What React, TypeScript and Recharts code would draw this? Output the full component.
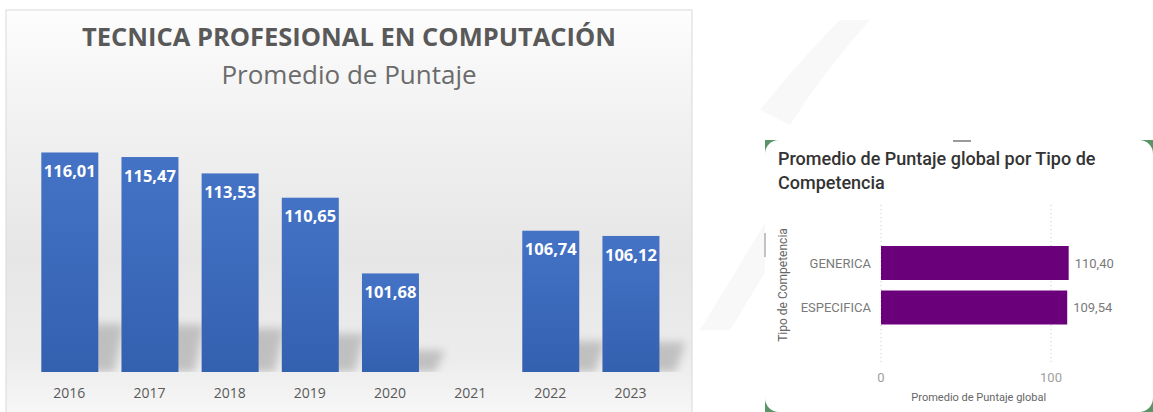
import React from 'react';
import { BarChart, Bar, XAxis, YAxis, CartesianGrid, LabelList } from 'recharts';

// ---- data ----
const years = ['2016', '2017', '2018', '2019', '2020', '2021', '2022', '2023'];
const scores: (number | null)[] = [116.01, 115.47, 113.53, 110.65, 101.68, null, 106.74, 106.12];
const competencias = ['GENERICA', 'ESPECIFICA'];
const globalScores = [110.4, 109.54];
const rightTicks = [0, 100];

const leftTitle = 'TECNICA PROFESIONAL EN COMPUTACIÓN';
const leftSubtitle = 'Promedio de Puntaje';
const rightTitleLines = ['Promedio de Puntaje global por Tipo de', 'Competencia'];
const rightXLabel = 'Promedio de Puntaje global';
const rightYLabel = 'Tipo de Competencia';

const yearData = years.map((y, i) => ({ year: y, score: scores[i] }));
const compData = competencias.map((c, i) => ({ tipo: c, score: globalScores[i] }));

const fmt = (v: any) => (v == null || v === '' ? '' : Number(v).toFixed(2).replace('.', ','));

const ShadowBar = (props: any) => {
  const { x, y, width, height } = props;
  if (!height || height <= 0) return null;
  const bottom = y + height;
  const sh = height * 0.22;
  return (
    <g>
      <polygon
        points={`${x + width * 0.5},${bottom} ${x + width + 16},${bottom} ${x + width + 26},${bottom - sh} ${x + width * 0.5 + 10},${bottom - sh}`}
        fill="#8c8c8c"
        opacity={0.45}
        filter="url(#blurShadow)"
      />
      <rect x={x} y={y} width={width} height={height} fill="url(#barBlue)" />
    </g>
  );
};

export default function App() {
  return (
    <div style={{ position: 'absolute', left: 0, top: 0, width: 1153, height: 412, background: '#ffffff', overflow: 'hidden' }}>
      <svg style={{ position: 'absolute', left: 0, top: 0 }} width={1153} height={412}>
        <defs>
          <linearGradient id="panelBg" x1="0" y1="0" x2="0" y2="1">
            <stop offset="0%" stopColor="#fdfdfd" />
            <stop offset="25%" stopColor="#f2f2f2" />
            <stop offset="60%" stopColor="#e6e6e6" />
            <stop offset="85%" stopColor="#ececec" />
            <stop offset="100%" stopColor="#f8f8f8" />
          </linearGradient>
        </defs>
        {/* faint watermark */}
        <path d="M 700 330 L 770 215 L 800 215 L 730 330 Z" fill="#f8f8f8" />
        <path d="M 760 110 Q 800 60 840 20 L 870 20 Q 825 70 790 125 Z" fill="#f8f8f8" />
        {/* left panel */}
        <rect x={6} y={10} width={686} height={410} fill="url(#panelBg)" stroke="#d9d9d9" strokeWidth={1} />
        <text x={349} y={46} textAnchor="middle" fontFamily="'Open Sans', sans-serif" fontWeight={700} fontSize={25.5} fill="#595959">
          {leftTitle}
        </text>
        <text x={349} y={83.5} textAnchor="middle" fontFamily="'Open Sans', sans-serif" fontSize={26} fill="#6b6b6b">
          {leftSubtitle}
        </text>
        {/* right panel */}
        <rect x={765} y={140} width={388} height={272} fill="#5a9467" />
        <rect x={765} y={140} width={388} height={272} rx={14} ry={14} fill="#ffffff" />
        <rect x={953} y={140} width={18} height={2} fill="#9a9a9a" />
        <line x1={765} y1={233} x2={765} y2={257} stroke="#8a8a8a" strokeWidth={1} />
        <text fontFamily="Roboto, sans-serif" fontWeight={500} fontSize={18} fill="#333333">
          <tspan x={778} y={165}>{rightTitleLines[0]}</tspan>
          <tspan x={778} y={188.5}>{rightTitleLines[1]}</tspan>
        </text>
      </svg>

      <div style={{ position: 'absolute', left: 0, top: 0 }}>
        <BarChart width={700} height={412} data={yearData} margin={{ top: 118.8, right: 29.4, bottom: 10, left: 29.3 }}>
          <defs>
            <linearGradient id="barBlue" x1="0" y1="0" x2="0" y2="1">
              <stop offset="0%" stopColor="#4473c6" />
              <stop offset="100%" stopColor="#3460b0" />
            </linearGradient>
            <filter id="blurShadow" x="-50%" y="-50%" width="200%" height="200%">
              <feGaussianBlur stdDeviation="4" />
            </filter>
          </defs>
          <XAxis
            dataKey="year"
            axisLine={false}
            tickLine={false}
            tickSize={0}
            tickMargin={16}
            interval={0}
            height={30}
            tick={{ fill: '#595959', fontSize: 14, fontFamily: "'Open Sans', sans-serif" }}
          />
          <YAxis hide type="number" domain={[90, 120]} allowDataOverflow />
          <Bar dataKey="score" barSize={57} shape={ShadowBar} isAnimationActive={false}>
            <LabelList
              dataKey="score"
              position="insideTop"
              offset={13}
              formatter={fmt}
              fill="#ffffff"
              fontSize={16.5}
              fontWeight={700}
              fontFamily="'Open Sans', sans-serif"
            />
          </Bar>
        </BarChart>
      </div>

      <div style={{ position: 'absolute', left: 765, top: 140 }}>
        <BarChart
          width={388}
          height={272}
          data={compData}
          layout="vertical"
          margin={{ top: 65, right: 76.5, bottom: 0, left: 0 }}
        >
          <CartesianGrid
            horizontal={false}
            vertical={true}
            verticalValues={rightTicks}
            strokeDasharray="1 3"
            stroke="#c8c8c8"
          />
          <XAxis
            type="number"
            domain={[0, 115]}
            ticks={rightTicks}
            axisLine={false}
            tickLine={false}
            tickSize={0}
            tickMargin={8}
            height={47}
            tick={{ fill: '#a0a0a0', fontSize: 13, fontFamily: 'Roboto, sans-serif' }}
            label={{ value: rightXLabel, position: 'insideBottom', offset: 11, fill: '#666666', fontSize: 11, fontFamily: 'Roboto, sans-serif' }}
          />
          <YAxis
            type="category"
            dataKey="tipo"
            width={116}
            axisLine={false}
            tickLine={false}
            tickSize={0}
            tickMargin={10}
            padding={{ top: 36, bottom: 35 }}
            tick={{ fill: '#7a7a7a', fontSize: 13, fontFamily: 'Roboto, sans-serif' }}
            label={{
              value: rightYLabel,
              angle: -90,
              position: 'insideLeft',
              offset: 18,
              fill: '#666666',
              fontSize: 12,
              fontFamily: 'Roboto, sans-serif',
              style: { textAnchor: 'middle' },
            }}
          />
          <Bar dataKey="score" fill="#6b007b" barSize={34} isAnimationActive={false}>
            <LabelList
              dataKey="score"
              position="right"
              offset={6}
              formatter={fmt}
              fill="#7a7a7a"
              fontSize={13}
              fontFamily="Roboto, sans-serif"
            />
          </Bar>
        </BarChart>
      </div>
    </div>
  );
}
